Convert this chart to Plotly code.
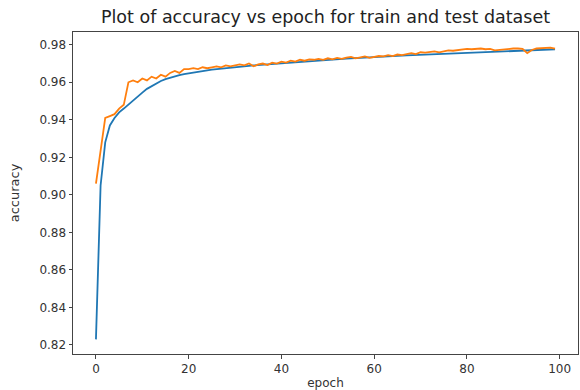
import plotly.graph_objects as go

epochs = list(range(100))

train_acc = [
    0.823, 0.905, 0.928, 0.937, 0.941, 0.944, 0.946, 0.948, 0.950, 0.9523,
    0.9545, 0.9565, 0.958, 0.9595, 0.9607, 0.9617, 0.9625, 0.9632, 0.9638, 0.9643,
    0.9648, 0.9653, 0.9657, 0.9661, 0.9664, 0.9667, 0.967, 0.9673, 0.9676, 0.9679,
    0.9681, 0.9684, 0.9686, 0.9688, 0.969, 0.9692, 0.9694, 0.9696, 0.9698, 0.970,
    0.9702, 0.9704, 0.9706, 0.9708, 0.971, 0.9712, 0.9713, 0.9715, 0.9717, 0.9718,
    0.972, 0.9721, 0.9723, 0.9724, 0.9726, 0.9727, 0.9729, 0.973, 0.9731, 0.9733,
    0.9734, 0.9735, 0.9737, 0.9738, 0.9739, 0.974, 0.9742, 0.9743, 0.9744, 0.9745,
    0.9746, 0.9747, 0.9748, 0.975, 0.9751, 0.9752, 0.9753, 0.9754, 0.9755, 0.9756,
    0.9757, 0.9758, 0.9759, 0.976, 0.9761, 0.9762, 0.9763, 0.9764, 0.9765, 0.9766,
    0.9767, 0.9768, 0.9769, 0.977, 0.9771, 0.9772, 0.9773, 0.9774, 0.9775, 0.9776,
]

test_acc = [
    0.906, 0.925, 0.941, 0.942, 0.943, 0.946, 0.948, 0.960, 0.961, 0.960,
    0.962, 0.961, 0.963, 0.962, 0.964, 0.963, 0.965, 0.966, 0.965, 0.967,
    0.967, 0.9675, 0.967, 0.968, 0.9675, 0.968, 0.9685, 0.968, 0.969, 0.9685,
    0.969, 0.9695, 0.969, 0.970, 0.9685, 0.9695, 0.970, 0.9692, 0.9705, 0.970,
    0.971, 0.9705, 0.9715, 0.971, 0.972, 0.9715, 0.9722, 0.972, 0.9725, 0.972,
    0.9728, 0.9722, 0.973, 0.9725, 0.9732, 0.9735, 0.9728, 0.9733, 0.9738, 0.973,
    0.9735, 0.974, 0.9738, 0.9745, 0.974, 0.9748, 0.9745, 0.975, 0.9755, 0.975,
    0.976, 0.9758, 0.9762, 0.9765, 0.976, 0.9765, 0.977, 0.9768, 0.9772, 0.9775,
    0.9778, 0.9776, 0.9778, 0.978, 0.9776, 0.9778, 0.977, 0.9772, 0.9775, 0.978,
    0.978, 0.978, 0.9778, 0.9755, 0.9772, 0.978, 0.9782, 0.978, 0.9785, 0.978,
]

x_ticks = [0, 20, 40, 60, 80, 100]
y_ticks = [0.82, 0.84, 0.86, 0.88, 0.90, 0.92, 0.94, 0.96, 0.98]

fig = go.Figure()
fig.add_trace(go.Scatter(x=epochs, y=train_acc, mode="lines",
                         line=dict(color="#1f77b4", width=1.8), name="train"))
fig.add_trace(go.Scatter(x=epochs, y=test_acc, mode="lines",
                         line=dict(color="#ff7f0e", width=1.8), name="test"))

font = "DejaVu Sans, sans-serif"
fig.update_layout(
    width=580, height=390,
    margin=dict(l=73, r=2, t=32, b=36),
    paper_bgcolor="white", plot_bgcolor="white",
    showlegend=False,
    font=dict(family=font, size=12, color="#333"),
    title=dict(text="Plot of accuracy vs epoch for train and test dataset",
               x=(73 + 578) / 2 / 580, xanchor="center", y=1 - 17 / 390, yanchor="middle",
               font=dict(family=font, size=17.5, color="#222")),
)
fig.update_xaxes(
    range=[-4.95, 103.95], tickvals=x_ticks, ticktext=[str(v) for v in x_ticks],
    showgrid=False, zeroline=False, showline=True, linecolor="#444", linewidth=1,
    mirror=True, ticks="outside", ticklen=3.5, tickcolor="#444",
    ticklabelstandoff=0, ticklabeloverflow="allow",
    title=dict(text="epoch", standoff=3, font=dict(size=12)),
)
fig.update_yaxes(
    range=[0.8152, 0.9868], tickvals=y_ticks, ticktext=[f"{v:.2f}" for v in y_ticks],
    showgrid=False, zeroline=False, showline=True, linecolor="#444", linewidth=1,
    mirror=True, ticks="outside", ticklen=3.5, tickcolor="#444",
    title=dict(text="accuracy", standoff=16, font=dict(size=13)),
)

fig.write_html("out.html",
               config={"displayModeBar": False},
               post_script="document.body.style.margin='0';document.body.style.padding='0';")
